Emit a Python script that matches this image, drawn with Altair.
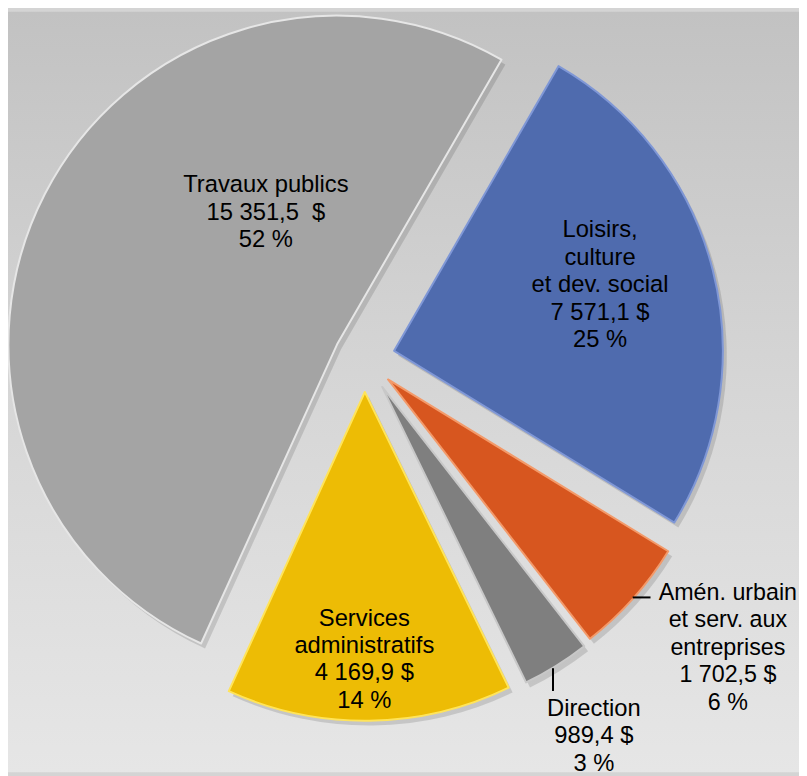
import math
import altair as alt
import pandas as pd

# ---- data ----
categories = [
    "Loisirs, culture et dev. social",
    "Amén. urbain et serv. aux entreprises",
    "Direction",
    "Services administratifs",
    "Travaux publics",
]
values = [7571.1, 1702.5, 989.4, 4169.9, 15351.5]
percents = [25, 6, 3, 14, 52]
name_lines = [
    ["Loisirs,", "culture", "et dev. social"],
    ["Amén. urbain", "et serv. aux", "entreprises"],
    ["Direction"],
    ["Services", "administratifs"],
    ["Travaux publics"],
]
value_labels = ["7 571,1 $", "1 702,5 $", "989,4 $", "4 169,9 $", "15 351,5 \u00a0$"]

# ---- styles ----
W, H = 799, 768
CX, CY = 360, 350          # pie centre in chart coordinates
R = 332                    # outer radius
START_DEG = 30             # first slice starts at this angle (clockwise from 12 o'clock)
FONT = "Liberation Sans"
LH = 27.7
fills = {
    categories[0]: "#4F6BAE",
    categories[1]: "#D7561F",
    categories[2]: "#7F7F7F",
    categories[3]: "#EDBC05",
    categories[4]: "#A4A4A4",
}
strokes = {
    categories[0]: "#7F97D6",
    categories[1]: "#F39A6A",
    categories[2]: "#C8C8C8",
    categories[3]: "#FFE45A",
    categories[4]: "#E6E6E6",
}
explode = {categories[0]: 31, categories[1]: 32, categories[2]: 34, categories[3]: 34, categories[4]: 31}
# label placement: (radius along mid angle, dx, dy, font size)
label_place = {
    categories[0]: (212, 2.5, -69.5, 24),
    categories[1]: (431, 22, -71.5, 23.5),
    categories[2]: (408, -2, -21, 24),
    categories[3]: (267, -4, -38, 24),
    categories[4]: (127, 41, -102.5, 24),
}

total = sum(values)
df = pd.DataFrame({
    "cat": categories,
    "value": values,
    "order": list(range(len(categories))),
    "label": ["\n".join(n + [v, f"{p} %"]) for n, v, p in zip(name_lines, value_labels, percents)],
})

# explode offsets computed from each slice's mid angle
offsets = {}
acc = 0.0
for c, v in zip(categories, values):
    mid = math.radians(START_DEG) + 2 * math.pi * (acc + v / 2) / total
    d = explode[c]
    offsets[c] = (d * math.sin(mid), -d * math.cos(mid))
    acc += v

tscale = alt.Scale(domain=[0, total], range=[math.radians(START_DEG), math.radians(START_DEG) + 2 * math.pi])

base = (
    alt.Chart(df)
    .transform_window(cum="sum(value)", sort=[alt.SortField("order")])
    .transform_calculate(start="datum.cum - datum.value", mid="datum.cum - datum.value / 2")
)

bg = alt.Chart(alt.Data(values=[{}])).mark_rect(
    fill=alt.Gradient(
        gradient="linear", x1=0, x2=0, y1=0, y2=1,
        stops=[alt.GradientStop(color="#C2C2C2", offset=0),
               alt.GradientStop(color="#D6D6D6", offset=0.5),
               alt.GradientStop(color="#E6E6E6", offset=1)],
    )
).encode(x=alt.value(0), x2=alt.value(W), y=alt.value(0), y2=alt.value(H))

layers = [bg]
# shadows
for c in categories:
    dx, dy = offsets[c]
    layers.append(
        base.transform_filter(alt.datum.cat == c)
        .mark_arc(outerRadius=R, color="#000000", opacity=0.13)
        .encode(theta=alt.Theta("start:Q", scale=tscale), theta2="cum:Q",
                x=alt.value(CX + dx + 4), y=alt.value(CY + dy + 5))
    )
# slices
for c in categories:
    dx, dy = offsets[c]
    layers.append(
        base.transform_filter(alt.datum.cat == c)
        .mark_arc(outerRadius=R, fill=fills[c], stroke=strokes[c], strokeWidth=2, strokeJoin="round")
        .encode(theta=alt.Theta("start:Q", scale=tscale), theta2="cum:Q",
                x=alt.value(CX + dx), y=alt.value(CY + dy))
    )
# labels
for c in categories:
    dx, dy = offsets[c]
    r, tdx, tdy, fs = label_place[c]
    layers.append(
        base.transform_filter(alt.datum.cat == c)
        .mark_text(font=FONT, fontSize=fs, lineHeight=LH, lineBreak="\n", align="center",
                   baseline="middle", color="#000000", dx=tdx, dy=tdy)
        .encode(theta=alt.Theta("mid:Q", scale=tscale), radius=alt.value(r),
                x=alt.value(CX + dx), y=alt.value(CY + dy), text="label:N")
    )

# leader lines
one = alt.Data(values=[{}])
layers.append(alt.Chart(one).mark_rule(color="#000000", strokeWidth=2).encode(
    x=alt.value(631), x2=alt.value(649), y=alt.value(591.5), y2=alt.value(591.5)))
layers.append(alt.Chart(one).mark_rule(color="#000000", strokeWidth=2).encode(
    x=alt.value(550.5), x2=alt.value(550.5), y=alt.value(663), y2=alt.value(686)))

chart = (
    alt.layer(*layers)
    .properties(width=W, height=H, padding=0, background="#D4D4D4",
                autosize=alt.AutoSizeParams(type="none"))
    .configure_view(stroke=None)
)

chart.save("out.html", embed_options={"renderer": "svg", "actions": False})
